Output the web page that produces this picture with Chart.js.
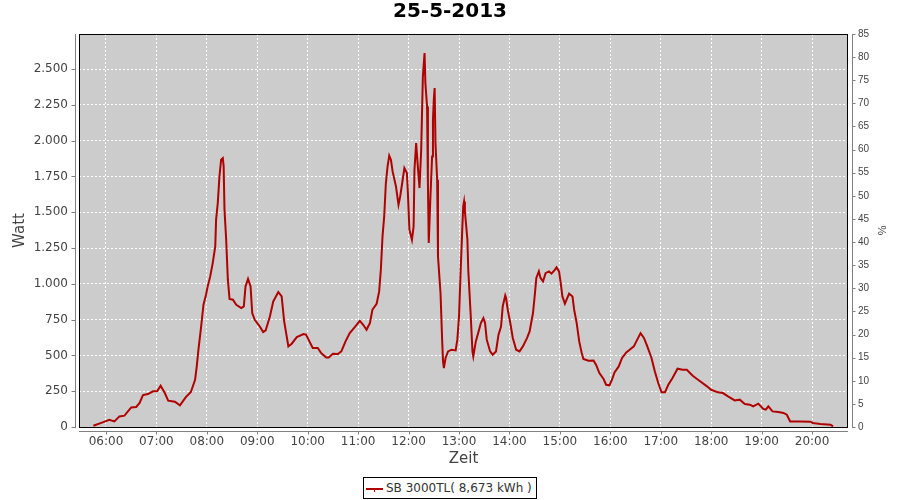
<!DOCTYPE html>
<html>
<head>
<meta charset="utf-8">
<script src="https://cdn.jsdelivr.net/npm/chart.js@4/dist/chart.umd.min.js"></script>
<style>
  html, body { margin: 0; padding: 0; background: #ffffff; }
  #wrap { position: relative; width: 900px; height: 500px; }
  #legend {
    position: absolute; left: 363px; top: 477px; width: 174px; height: 22px;
    box-sizing: border-box; border: 1px solid #000; background: #fff;
    font: 12px "DejaVu Sans", sans-serif; color: #333; white-space: nowrap;
  }
  #legend .swatch { position: absolute; left: 2px; top: 10px; width: 17px; height: 2px; background: #b00000; }
  #legend .tick { position: absolute; left: 10px; top: 10px; width: 1px; height: 4px; background: #b00000; }
  #legend .label { position: absolute; left: 22px; top: 3px; line-height: 14px; }
</style>
</head>
<body>
<div id="wrap">
  <canvas id="c" width="900" height="500"></canvas>
  <div id="legend"><span class="swatch"></span><span class="tick"></span><span class="label">SB 3000TL( 8,673 kWh )</span></div>
</div>
<script>
// ---- data ----
const chartTitle = "25-5-2013";
const seriesName = "SB 3000TL( 8,673 kWh )";
const times = ["05:45","05:56","06:04","06:10","06:16","06:22","06:30","06:36","06:40","06:44","06:50","06:56",
"07:01","07:05","07:10","07:14","07:22","07:28","07:35","07:41","07:46","07:48","07:50","07:53","07:56","07:59",
"08:01","08:04","08:07","08:10","08:11","08:13","08:15","08:17","08:19","08:20","08:21","08:23","08:25","08:27",
"08:31","08:35","08:41","08:44","08:46","08:49","08:52","08:54","08:57","09:03","09:07","09:10","09:15","09:19",
"09:25","09:29","09:32","09:37","09:41","09:47","09:55","09:58","10:02","10:06","10:12","10:16","10:22","10:25",
"10:30","10:36","10:40","10:45","10:50","10:56","11:02","11:06","11:10","11:14","11:17","11:22","11:25","11:27",
"11:29","11:31","11:33","11:35","11:37","11:39","11:41","11:45","11:48","11:50","11:53","11:55","11:58","11:59",
"12:01","12:04","12:06","12:07","12:09","12:11","12:13","12:15","12:17","12:19","12:20","12:22","12:23","12:24",
"12:26","12:28","12:29","12:30","12:31","12:32","12:34","12:35","12:38","12:40","12:41","12:42","12:44","12:47",
"12:51","12:56","12:58","13:00","13:02","13:04","13:05","13:06","13:07","13:10","13:11","13:14","13:16","13:17",
"13:20","13:23","13:26","13:29","13:31","13:33","13:37","13:40","13:44","13:47","13:50","13:52","13:55","13:56",
"13:58","14:01","14:04","14:08","14:12","14:16","14:21","14:24","14:28","14:30","14:32","14:35","14:37","14:40",
"14:43","14:47","14:50","14:54","14:56","14:59","15:01","15:03","15:06","15:08","15:11","15:15","15:17","15:20",
"15:23","15:26","15:28","15:34","15:40","15:43","15:47","15:52","15:55","15:59","16:02","16:05","16:10","16:14",
"16:19","16:23","16:28","16:31","16:36","16:40","16:44","16:49","16:53","16:57","17:01","17:05","17:09","17:14",
"17:20","17:26","17:31","17:38","17:46","17:55","18:00","18:08","18:14","18:20","18:28","18:34","18:40","18:46",
"18:50","18:56","19:02","19:05","19:08","19:13","19:20","19:26","19:30","19:34","19:46","19:58","20:01","20:10",
"20:22","20:25"];
const watts = [9,32,51,39,74,79,137,140,168,223,230,249,
251,288,237,184,177,151,209,244,330,423,540,691,854,924,
982,1052,1145,1261,1448,1564,1750,1867,1878,1820,1517,1308,1029,894,
889,854,831,842,982,1034,982,796,749,702,663,675,772,877,
943,912,737,563,582,628,649,645,598,552,552,517,486,486,
512,510,528,598,656,698,742,714,679,726,819,861,947,1098,
1331,1471,1704,1820,1895,1867,1785,1680,1552,1610,1727,1809,1774,1657,
1378,1308,1401,1797,1983,1820,1669,1936,2448,2612,2402,2239,1704,1285,
1610,1890,2146,2286,2367,1983,1727,1191,936,598,458,412,482,528,
540,535,610,772,1098,1401,1541,1575,1506,1308,1098,772,528,493,
598,661,726,761,726,610,528,505,528,645,702,842,919,901,
819,726,622,540,528,563,622,668,796,912,1041,1087,1041,1017,
1075,1087,1071,1098,1115,1087,1006,912,861,889,931,912,819,726,
598,517,475,463,465,435,377,335,295,291,330,381,423,482,
521,540,563,598,656,622,563,482,388,307,242,242,295,342,
407,400,400,358,323,284,260,242,237,214,186,191,161,156,
144,163,126,121,144,109,105,98,86,39,39,37,28,21,
16,4];
const hourTicks = [6,7,8,9,10,11,12,13,14,15,16,17,18,19,20];
const wattTicks = [0,250,500,750,1000,1250,1500,1750,2000,2250,2500];
const percentTicks = [0,5,10,15,20,25,30,35,40,45,50,55,60,65,70,75,80,85];

function toHours(s) { const p = s.split(":"); return +p[0] + (+p[1]) / 60; }
function fmtThousands(v) { return String(v).replace(/\B(?=(\d{3})+(?!\d))/g, "."); }
function pad2(n) { return (n < 10 ? "0" : "") + n; }

const points = times.map((t, i) => ({ x: toHours(t), y: watts[i] }));

const axisPlugin = {
  id: 'jfreeLook',
  beforeDraw(chart) {
    const { ctx, chartArea: a } = chart;
    ctx.save();
    ctx.fillStyle = '#cccccc';
    ctx.fillRect(a.left, a.top, a.right - a.left, a.bottom - a.top);
    ctx.restore();
  },
  afterDraw(chart) {
    const { ctx, chartArea: a, scales } = chart;
    ctx.save();
    // plot border
    ctx.strokeStyle = '#000';
    ctx.lineWidth = 1;
    ctx.strokeRect(a.left + 0.5, a.top + 0.5, a.right - a.left - 1, a.bottom - a.top);
    // offset axis lines and tick marks
    ctx.strokeStyle = '#808080';
    ctx.beginPath();
    const lx = a.left - 3.5;
    ctx.moveTo(lx, a.top); ctx.lineTo(lx, a.bottom + 1);
    wattTicks.forEach(v => { const y = Math.round(scales.y.getPixelForValue(v)) + 0.5; ctx.moveTo(lx - 4, y); ctx.lineTo(lx, y); });
    const rx = a.right + 4.5;
    ctx.moveTo(rx, a.top); ctx.lineTo(rx, a.bottom + 1);
    percentTicks.forEach(v => { const y = Math.round(scales.y2.getPixelForValue(v)) + 0.5; ctx.moveTo(rx, y); ctx.lineTo(rx + 3, y); });
    const by = a.bottom + 4.5;
    ctx.moveTo(a.left, by); ctx.lineTo(a.right, by);
    hourTicks.forEach(v => { const x = Math.round(scales.x.getPixelForValue(v)) + 0.5; ctx.moveTo(x, by); ctx.lineTo(x, by + 3); });
    ctx.stroke();
    ctx.restore();
  }
};

const tickFont = { family: '"DejaVu Sans", sans-serif', size: 12 };
const titleFont = { family: '"DejaVu Sans", sans-serif', size: 15 };

new Chart(document.getElementById('c'), {
  type: 'line',
  data: {
    datasets: [{
      label: seriesName,
      data: points,
      borderColor: '#b00000',
      borderWidth: 2,
      pointRadius: 0,
      tension: 0,
      fill: false,
      yAxisID: 'y'
    }]
  },
  options: {
    responsive: false,
    animation: false,
    devicePixelRatio: 1,
    layout: { padding: 0 },
    plugins: {
      legend: { display: false },
      tooltip: { enabled: false },
      title: {
        display: true, text: chartTitle, color: '#000',
        font: { family: '"DejaVu Sans", sans-serif', size: 20, weight: 'bold' },
        padding: { top: 0, bottom: 10 }
      }
    },
    scales: {
      x: {
        type: 'linear', position: 'bottom',
        min: 5.465, max: 20.713,
        afterBuildTicks: s => { s.ticks = hourTicks.map(v => ({ value: v })); },
        afterFit: s => { s.height = 73; },
        ticks: {
          autoSkip: false, maxRotation: 0, padding: 8, color: '#444', font: tickFont,
          callback: v => pad2(v) + ":00"
        },
        grid: { color: '#ffffff', lineWidth: 1, drawTicks: false },
        border: { display: false, dash: [2, 2] },
        title: { display: true, text: 'Zeit', color: '#444', font: titleFont, padding: { top: 0, bottom: 32 } }
      },
      y: {
        type: 'linear', position: 'left',
        min: 0, max: 2745,
        afterBuildTicks: s => { s.ticks = wattTicks.map(v => ({ value: v })); },
        afterFit: s => { s.width = 79; },
        ticks: { padding: 11, color: '#444', font: tickFont, callback: v => fmtThousands(v) },
        grid: { color: '#ffffff', lineWidth: 1, drawTicks: false },
        border: { display: false, dash: [2, 2] },
        title: { display: true, text: 'Watt', color: '#444', font: titleFont, padding: { top: 11, bottom: 0 } }
      },
      y2: {
        type: 'linear', position: 'right', display: true,
        min: 0, max: 85,
        afterBuildTicks: s => { s.ticks = percentTicks.map(v => ({ value: v })); },
        afterFit: s => { s.width = 52; },
        ticks: { padding: 10, color: '#444', font: { family: '"Liberation Sans", sans-serif', size: 10 } },
        grid: { display: false, drawTicks: false },
        border: { display: false },
        title: { display: true, text: '%', color: '#444', font: { family: '"Liberation Sans", sans-serif', size: 11 }, padding: { top: 12, bottom: 0 } }
      }
    }
  },
  plugins: [axisPlugin]
});
</script>
</body>
</html>
